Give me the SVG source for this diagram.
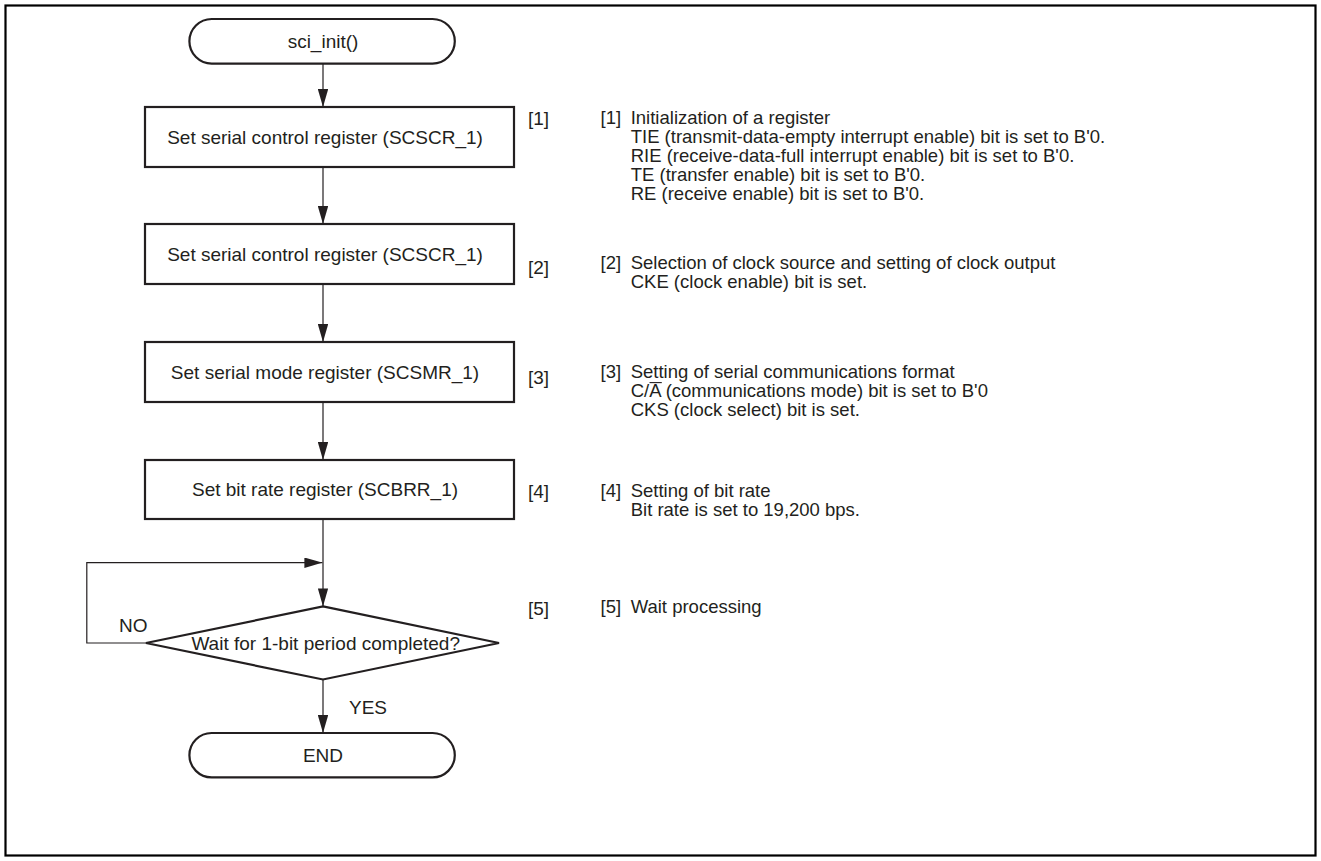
<svg xmlns="http://www.w3.org/2000/svg" width="1321" height="861" viewBox="0 0 1321 861">
<defs>
<style>
text{font-family:"Liberation Sans",Arial,sans-serif;font-size:19px;fill:#231f20}
.c{text-anchor:middle}
.shape{fill:#fff;stroke:#231f20;stroke-width:2.2}
.ln{fill:none;stroke:#231f20;stroke-width:1.2}
.d{font-size:18.5px}
</style>
<marker id="ah" viewBox="0 0 18 10.4" refX="18" refY="5.2" markerWidth="18" markerHeight="10.4" markerUnits="userSpaceOnUse" orient="auto">
<path d="M0,0 L18,5.2 L0,10.4 Z" fill="#231f20"/>
</marker>
</defs>
<rect x="5.5" y="5.5" width="1310" height="850" fill="#fff" stroke="#000" stroke-width="2.2"/>
<g id="connectors">
<line class="ln" x1="323" y1="63.6" x2="323" y2="107" marker-end="url(#ah)"/>
<line class="ln" x1="323" y1="167" x2="323" y2="224" marker-end="url(#ah)"/>
<line class="ln" x1="323" y1="284" x2="323" y2="342" marker-end="url(#ah)"/>
<line class="ln" x1="323" y1="402" x2="323" y2="460" marker-end="url(#ah)"/>
<line class="ln" x1="323" y1="519" x2="323" y2="606.4" marker-end="url(#ah)"/>
<polyline class="ln" points="146,643 86.8,643 86.8,562.7 322.4,562.7" marker-end="url(#ah)"/>
<line class="ln" x1="323" y1="679.5" x2="323" y2="733" marker-end="url(#ah)"/>
</g>
<g id="start">
<rect class="shape" x="189.4" y="19" width="265.4" height="44.6" rx="22.3"/>
<text class="c" x="323" y="48">sci_init()</text>
</g>
<g id="box1">
<rect class="shape" x="145" y="107" width="369" height="60"/>
<text class="c" x="325" y="143.7">Set serial control register (SCSCR_1)</text>
</g>
<g id="box2">
<rect class="shape" x="145" y="224" width="369" height="60"/>
<text class="c" x="325" y="260.7">Set serial control register (SCSCR_1)</text>
</g>
<g id="box3">
<rect class="shape" x="145" y="342" width="369" height="60"/>
<text class="c" x="325" y="378.7">Set serial mode register (SCSMR_1)</text>
</g>
<g id="box4">
<rect class="shape" x="145" y="460" width="369" height="59"/>
<text class="c" x="325" y="496.2">Set bit rate register (SCBRR_1)</text>
</g>
<g id="decision">
<polygon class="shape" points="323,606.4 499,643 323,679.5 146,643"/>
<text class="c" x="325.7" y="649.6">Wait for 1-bit period completed?</text>
<text x="119" y="632">NO</text>
<text x="349" y="714">YES</text>
</g>
<g id="end">
<rect class="shape" x="189.4" y="733" width="265.4" height="44.4" rx="22.2"/>
<text class="c" x="323" y="762">END</text>
</g>
<g id="labels">
<text x="528" y="124.8">[1]</text>
<text x="528" y="273.6">[2]</text>
<text x="528" y="383.8">[3]</text>
<text x="528" y="498">[4]</text>
<text x="528" y="614.7">[5]</text>
</g>
<g id="notes">
<text class="d" x="600.6" y="124">[1]</text>
<text class="d" x="630.7" y="124">Initialization of a register</text>
<text class="d" x="630.7" y="143">TIE (transmit-data-empty interrupt enable) bit is set to B'0.</text>
<text class="d" x="630.7" y="162">RIE (receive-data-full interrupt enable) bit is set to B'0.</text>
<text class="d" x="630.7" y="181">TE (transfer enable) bit is set to B'0.</text>
<text class="d" x="630.7" y="200">RE (receive enable) bit is set to B'0.</text>
<text class="d" x="600.6" y="269">[2]</text>
<text class="d" x="630.7" y="269">Selection of clock source and setting of clock output</text>
<text class="d" x="630.7" y="288">CKE (clock enable) bit is set.</text>
<text class="d" x="600.6" y="378">[3]</text>
<text class="d" x="630.7" y="378">Setting of serial communications format</text>
<text class="d" x="630.7" y="397">C/A (communications mode) bit is set to B'0</text>
<line x1="649.5" y1="382.6" x2="661.8" y2="382.6" stroke="#231f20" stroke-width="1.1"/>
<text class="d" x="630.7" y="416">CKS (clock select) bit is set.</text>
<text class="d" x="600.6" y="497">[4]</text>
<text class="d" x="630.7" y="497">Setting of bit rate</text>
<text class="d" x="630.7" y="516">Bit rate is set to 19,200 bps.</text>
<text class="d" x="600.6" y="612.5">[5]</text>
<text class="d" x="630.7" y="612.5">Wait processing</text>
</g>
</svg>
